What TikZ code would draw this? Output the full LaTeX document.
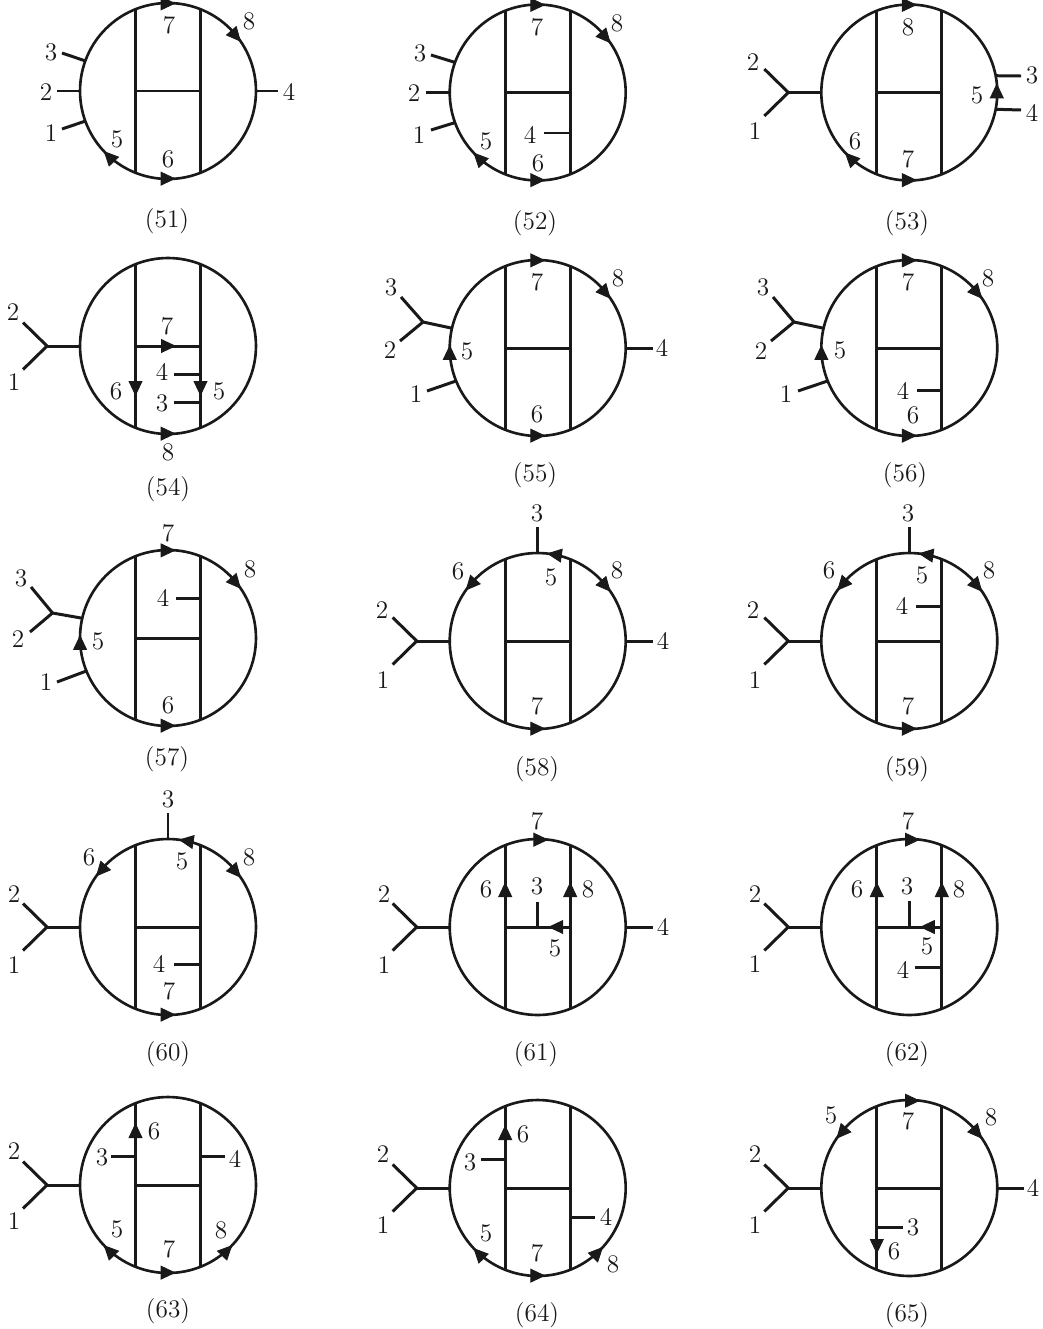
\documentclass[tikz,border=0pt]{standalone}
\usetikzlibrary{arrows.meta}

% loop with its two rungs and the bar between them
\newcommand{\ladder}[3]{
    \node[loop] (l#1) at (#2,#3) {};
    \coordinate (l#1ml) at (#2-32.5,#3);
    \coordinate (l#1mr) at (#2+32.5,#3);
    \draw[prop] (l#1ml |- l#1.112) -- (l#1ml |- l#1.248);
    \draw[prop] (l#1mr |- l#1.68) -- (l#1mr |- l#1.292);
    \draw[prop] (l#1ml) -- (l#1mr);
}
% pair of outer lines joined on the left of the loop
\newcommand{\fork}[1]{
    \path (l#1.180) ++(-33,0) coordinate (v#1) ++(-24,-23.5) coordinate (u#1) ++(0,47) coordinate (w#1);
    \draw[prop] (l#1.180) -- (v#1);
    \draw[prop] (u#1) -- (v#1) -- (w#1);
}
\newcommand{\labels}[2]{
    \foreach \t/\x/\y in {#2} \node[lbl] (n#1-\t) at (\x,\y) {\t};
}
\newcommand{\capt}[3]{\node[lbl] (c#1) at (#2,#3) {(#1)};}

\begin{document}
\begin{tikzpicture}[
        x=0.02cm, y=-0.02cm,
        loop/.style={draw=black!90, circle, line width=1.5pt, inner sep=0pt, outer sep=0pt, minimum size=3.52cm},
        prop/.style={line width=1.7pt, draw=black!90},
        fermion/.style={-{Triangle[length=0.3cm, width=0.28cm]}, line width=0.5pt, draw=black!90, fill=black!90},
        lbl/.style={font=\fontsize{14.4}{17}\selectfont, text=black!90, inner sep=0pt}
    ]
    \useasboundingbox (0,0) rectangle (1043,1329);

    % --- (51) ---
    \ladder{51}{168}{91}
    \draw[prop] (l51.160) -- (62,53) coordinate (e51a);
    \draw[prop] (l51.180) -- (57,91) coordinate (e51b);
    \draw[prop] (l51.200) -- (62,129) coordinate (e51c);
    \draw[prop] (l51.0) -- (278,91) coordinate (e51d);
    \draw[fermion] (l51.95) -- (l51.85);
    \draw[fermion] (l51.48) -- (l51.34);
    \draw[fermion] (l51.225) -- (l51.223);
    \draw[fermion] (l51.265) -- (l51.275);
    \labels{51}{3/51/52, 2/46/92, 1/51/133, 4/289/92, 7/169/25, 8/249/21, 5/117/139, 6/168/159}
    \capt{51}{167}{221}

    % --- (52) ---
    \ladder{52}{537.7}{92.5}
    \draw[prop] (l52.160) -- (431,55) coordinate (e52a);
    \draw[prop] (l52.180) -- (426,92.5) coordinate (e52b);
    \draw[prop] (l52.200) -- (431,130) coordinate (e52c);
    \coordinate (e52d) at (544,133);
    \draw[prop] (e52d) -- (e52d -| l52mr);
    \draw[fermion] (l52.95) -- (l52.85);
    \draw[fermion] (l52.48) -- (l52.34);
    \draw[fermion] (l52.225) -- (l52.223);
    \draw[fermion] (l52.265) -- (l52.275);
    \labels{52}{3/420/53, 2/414/93, 1/419/135, 4/530/135, 7/537/27, 8/617/23, 5/486/141, 6/538/163}
    \capt{52}{535}{223}

    % --- (53) ---
    \ladder{53}{909.3}{92.5}
    \fork{53}
    \draw[prop] (l53.11) -- (1021,76) coordinate (e53a);
    \draw[prop] (l53.349) -- (1021,110) coordinate (e53b);
    \draw[fermion] (l53.95) -- (l53.85);
    \draw[fermion] (l53.225) -- (l53.223);
    \draw[fermion] (l53.265) -- (l53.275);
    \draw[fermion] (l53.354) -- (l53.6);
    \labels{53}{2/753/62, 1/755/131, 3/1032/75, 4/1032/113, 5/977/95, 8/908/27, 7/908/159, 6/855/141}
    \capt{53}{907}{223}

    % --- (54) ---
    \ladder{54}{168}{346}
    \fork{54}
    \coordinate (e54a) at (174,374);
    \draw[prop] (e54a) -- (e54a -| l54mr);
    \coordinate (e54b) at (174,402);
    \draw[prop] (e54b) -- (e54b -| l54mr);
    \draw[fermion] (l54ml) ++(39.5,0) -- ++(1,0);
    \draw[fermion] (l54ml) ++(0,49) -- ++(0,1);
    \draw[fermion] (l54mr) ++(0,49) -- ++(0,1);
    \draw[fermion] (l54.265) -- (l54.275);
    \labels{54}{2/13/312, 1/14/382, 7/167/326, 4/162/372, 3/162/403, 6/116/391, 5/219/391, 8/168/452}
    \capt{54}{168}{489}

    % --- (55) ---
    \ladder{55}{537.7}{348}
    \coordinate (v55) at (423,322);
    \draw[prop] (l55.167) -- (v55);
    \draw[prop] (401,297) coordinate (u55) -- (v55) -- (400,341) coordinate (w55);
    \draw[prop] (l55.202) -- (427,391) coordinate (e55a);
    \draw[prop] (l55.0) -- (653,348) coordinate (e55b);
    \draw[fermion] (l55.95) -- (l55.85);
    \draw[fermion] (l55.48) -- (l55.34);
    \draw[fermion] (l55.265) -- (l55.275);
    \draw[fermion] (l55.182) -- (l55.178);
    \labels{55}{3/391/287, 2/390/350, 1/416/394, 5/467/351, 7/537/282, 8/618/278, 6/537/414, 4/662/348}
    \capt{55}{535}{475}

    % --- (56) ---
    \ladder{56}{909.3}{348}
    \coordinate (v56) at (794,322);
    \draw[prop] (l56.167) -- (v56);
    \draw[prop] (773,297) coordinate (u56) -- (v56) -- (771,341) coordinate (w56);
    \draw[prop] (l56.202) -- (798,391) coordinate (e56a);
    \coordinate (e56b) at (917,390);
    \draw[prop] (e56b) -- (e56b -| l56mr);
    \draw[fermion] (l56.95) -- (l56.85);
    \draw[fermion] (l56.48) -- (l56.34);
    \draw[fermion] (l56.265) -- (l56.275);
    \draw[fermion] (l56.182) -- (l56.178);
    \labels{56}{3/763/287, 2/761/351, 1/786/394, 5/840/350, 7/908/282, 8/988/278, 6/913/415, 4/903/391}
    \capt{56}{905}{475}

    % --- (57) ---
    \ladder{57}{168}{638}
    \coordinate (v57) at (52.5,613);
    \draw[prop] (l57.167) -- (v57);
    \draw[prop] (31,587) coordinate (u57) -- (v57) -- (30,632) coordinate (w57);
    \draw[prop] (l57.202) -- (57,682) coordinate (e57a);
    \coordinate (e57b) at (176,598);
    \draw[prop] (e57b) -- (e57b -| l57mr);
    \draw[fermion] (l57.95) -- (l57.85);
    \draw[fermion] (l57.48) -- (l57.34);
    \draw[fermion] (l57.265) -- (l57.275);
    \draw[fermion] (l57.182) -- (l57.178);
    \labels{57}{3/21/578, 2/18/639, 1/46/682, 5/98/641, 7/168/533, 8/250/569, 4/163/598, 6/168/705}
    \capt{57}{167}{759}

    % --- (58) ---
    \ladder{58}{537.7}{641}
    \fork{58}
    \draw[prop] (l58.90) -- (537.7,527) coordinate (e58a);
    \draw[prop] (l58.0) -- (653,641) coordinate (e58b);
    \draw[fermion] (l58.80) -- (l58.84);
    \draw[fermion] (l58.132) -- (l58.145);
    \draw[fermion] (l58.48) -- (l58.34);
    \draw[fermion] (l58.265) -- (l58.275);
    \labels{58}{2/382/610, 1/383/680, 3/537/513, 5/551/577, 6/458/571, 8/617/570, 4/663/641, 7/537/706}
    \capt{58}{537}{769}

    % --- (59) ---
    \ladder{59}{909.3}{641}
    \fork{59}
    \draw[prop] (l59.90) -- (909.3,527) coordinate (e59a);
    \coordinate (e59b) at (916,606);
    \draw[prop] (e59b) -- (e59b -| l59mr);
    \draw[fermion] (l59.80) -- (l59.84);
    \draw[fermion] (l59.132) -- (l59.145);
    \draw[fermion] (l59.48) -- (l59.34);
    \draw[fermion] (l59.265) -- (l59.275);
    \labels{59}{2/753/610, 1/755/680, 3/908/513, 5/922/575, 6/829/570, 8/989/570, 4/902/606, 7/908/706}
    \capt{59}{907}{769}

    % --- (60) ---
    \ladder{60}{168}{927}
    \fork{60}
    \draw[prop] (l60.90) -- (168,813) coordinate (e60a);
    \coordinate (e60b) at (174,964);
    \draw[prop] (e60b) -- (e60b -| l60mr);
    \draw[fermion] (l60.79) -- (l60.83);
    \draw[fermion] (l60.132) -- (l60.145);
    \draw[fermion] (l60.48) -- (l60.34);
    \draw[fermion] (l60.265) -- (l60.275);
    \labels{60}{2/14/894, 1/14/965, 3/168/799, 5/182/861, 6/89/857, 8/249/857, 4/159/964, 7/169/991}
    \capt{60}{168}{1054}

    % --- (61) ---
    \ladder{61}{537.7}{927}
    \fork{61}
    \coordinate (e61a) at (537.7,902);
    \draw[prop] (e61a) -- (e61a |- l61ml);
    \draw[prop] (l61.0) -- (653,927) coordinate (e61b);
    \draw[fermion] (l61.97) -- (l61.83);
    \draw[fermion] (l61ml) ++(0,-44) -- ++(0,-1);
    \draw[fermion] (l61mr) ++(0,-44) -- ++(0,-1);
    \draw[fermion] (l61mr) ++(-21,0) -- ++(-1,0);
    \labels{61}{2/384/894, 1/384/965, 7/537/821, 6/486/889, 8/588/889, 3/537/886, 5/555/948, 4/663/927}
    \capt{61}{536}{1054}

    % --- (62) ---
    \ladder{62}{909.3}{927}
    \fork{62}
    \coordinate (e62a) at (909.3,901);
    \draw[prop] (e62a) -- (e62a |- l62ml);
    \coordinate (e62b) at (915,967);
    \draw[prop] (e62b) -- (e62b -| l62mr);
    \draw[fermion] (l62.97) -- (l62.83);
    \draw[fermion] (l62ml) ++(0,-44) -- ++(0,-1);
    \draw[fermion] (l62mr) ++(0,-44) -- ++(0,-1);
    \draw[fermion] (l62mr) ++(-21,0) -- ++(-1,0);
    \labels{62}{2/755/894, 1/755/964, 7/908/821, 6/857/889, 8/959/889, 3/907/886, 5/927/946, 4/903/970}
    \capt{62}{907}{1054}

    % --- (63) ---
    \ladder{63}{168}{1185}
    \fork{63}
    \coordinate (e63a) at (111,1156);
    \draw[prop] (e63a) -- (e63a -| l63ml);
    \coordinate (e63b) at (225,1156);
    \draw[prop] (e63b) -- (e63b -| l63mr);
    \draw[fermion] (l63ml) ++(0,-61) -- ++(0,-1);
    \draw[fermion] (l63.225) -- (l63.223);
    \draw[fermion] (l63.265) -- (l63.275);
    \draw[fermion] (l63.315) -- (l63.317);
    \labels{63}{2/14/1151, 1/14/1221, 6/154/1131, 3/102/1157, 4/235/1159, 5/117/1229, 7/169/1249, 8/221/1230}
    \capt{63}{168}{1311}

    % --- (64) ---
    \ladder{64}{537.7}{1188}
    \fork{64}
    \coordinate (e64a) at (481,1159);
    \draw[prop] (e64a) -- (e64a -| l64ml);
    \coordinate (e64b) at (595,1217);
    \draw[prop] (e64b) -- (e64b -| l64mr);
    \draw[fermion] (l64ml) ++(0,-62) -- ++(0,-1);
    \draw[fermion] (l64.225) -- (l64.223);
    \draw[fermion] (l64.265) -- (l64.275);
    \draw[fermion] (l64.315) -- (l64.318);
    \labels{64}{2/383/1154, 1/383/1225, 6/523/1134, 3/470/1162, 4/606/1217, 5/486/1233, 7/537/1253, 8/613/1264}
    \capt{64}{537}{1315}

    % --- (65) ---
    \ladder{65}{909.3}{1188}
    \fork{65}
    \coordinate (e65a) at (903,1227);
    \draw[prop] (e65a) -- (e65a -| l65ml);
    \draw[prop] (l65.0) -- (1024,1188) coordinate (e65b);
    \draw[fermion] (l65.97) -- (l65.83);
    \draw[fermion] (l65.48) -- (l65.34);
    \draw[fermion] (l65.132) -- (l65.146);
    \draw[fermion] (l65ml) ++(0,65) -- ++(0,1);
    \labels{65}{2/755/1154, 1/755/1225, 5/831/1115, 7/908/1121, 8/991/1117, 3/913/1227, 6/894/1251, 4/1033/1188}
    \capt{65}{907}{1315}
\end{tikzpicture}
\end{document}
